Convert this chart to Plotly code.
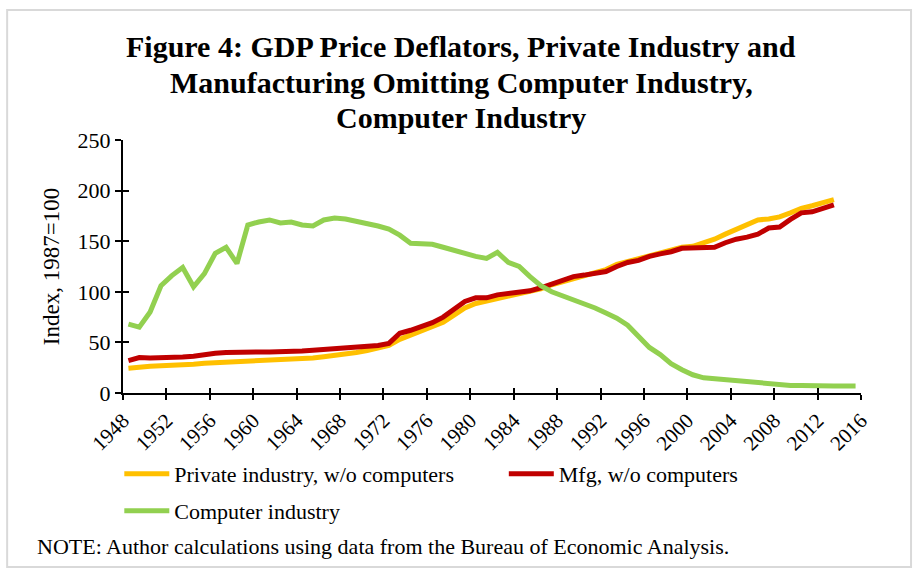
import plotly.graph_objects as go

years_comp = list(range(1948, 2016))
years_priv = list(range(1948, 2014))

computer = [68, 65, 80, 106, 116, 124, 105, 118, 138, 144, 128, 166, 169, 171, 168, 169,
            166, 165, 171, 173, 172, 170, 168, 165, 162, 156, 148, 148, 147, 144, 141, 137,
            135, 133, 139, 129, 125, 115, 106, 100, 96, 93, 88, 84, 79, 74, 67, 56,
            45, 38, 29, 23, 18, 15, 14, 13, 12, 11, 10, 9, 8, 7.5, 7.5, 7, 7, 7, 7, 7]

private = [24.5, 26, 26.5, 27, 27.3, 28, 28.5, 29.5, 30, 30.5, 31, 31.3, 31.6, 32, 32.3, 32.8,
           33.5, 34.5, 35.8, 37, 38.5, 40, 42, 44, 47, 53, 57, 61, 65.5, 70, 77, 84,
           88.5, 91, 93.5, 96, 98, 100.5, 103, 107, 110, 114, 116.5, 119, 122, 127, 130, 132,
           135, 138, 141, 144, 145, 148, 152, 157, 162, 167, 171, 172, 174, 178, 182.5, 185, 188, 191]

mfg = [32, 35, 34.6, 34.6, 35, 35.6, 36.3, 38, 39.3, 40, 40.5, 40.5, 40.5, 40.5, 40.5, 41,
       41.5, 42.3, 43, 44, 44.5, 45, 45.5, 47, 49, 59, 62, 65.5, 69.5, 75, 83, 90.5,
       94, 94, 97, 98.5, 99.5, 101, 104, 108, 111.5, 115, 116.5, 118, 120, 125, 129, 131,
       135, 137.5, 139.6, 143, 143, 143, 144, 148.5, 152, 154, 157, 163, 164, 171.5, 178, 179, 182.5, 186]

tick_years = list(range(1948, 2017, 4))
tick_labels = [str(y) for y in tick_years]
y_ticks = [0, 50, 100, 150, 200, 250]

title_lines = ["Figure 4: GDP Price Deflators, Private Industry and",
               "Manufacturing Omitting Computer Industry,",
               "Computer Industry"]
note_text = "NOTE: Author calculations using data from the Bureau of Economic Analysis."

FONT = "Liberation Serif"
FS = 22

fig = go.Figure()
fig.add_trace(go.Scatter(x=years_priv, y=private, mode="lines", name="Private industry, w/o computers",
                         line=dict(color="#FFC000", width=5), legend="legend"))
fig.add_trace(go.Scatter(x=years_priv, y=mfg, mode="lines", name="Mfg, w/o computers",
                         line=dict(color="#C00000", width=5), legend="legend2"))
fig.add_trace(go.Scatter(x=years_comp, y=computer, mode="lines", name="Computer industry",
                         line=dict(color="#92D050", width=5), legend="legend3"))
# invisible trace on overlay axes to get crossing tick marks
fig.add_trace(go.Scatter(x=[1948], y=[0], xaxis="x2", yaxis="y2", mode="markers",
                         marker=dict(opacity=0), showlegend=False, hoverinfo="skip"))

tickvals_x = [y - 0.5 for y in tick_years]

legend_common = dict(orientation="h", xanchor="left", yanchor="middle",
                     font=dict(family=FONT, size=FS, color="black"),
                     bgcolor="rgba(0,0,0,0)", itemwidth=45)

annotations = []
for line, ypos in zip(title_lines, [1.3676, 1.2253, 1.0909]):
    annotations.append(dict(text="<b>" + line + "</b>", xref="paper", yref="paper", x=0.458, y=ypos,
                            xanchor="center", yanchor="middle", showarrow=False,
                            font=dict(family=FONT, size=30, color="black")))
annotations.append(dict(text=note_text, xref="paper", yref="paper", x=-0.119, y=-0.605,
                        xanchor="left", yanchor="middle", showarrow=False,
                        font=dict(family=FONT, size=FS, color="black")))

fig.update_layout(
    width=922, height=578,
    margin=dict(l=123, r=61, t=140, b=185),
    paper_bgcolor="white", plot_bgcolor="white",
    font=dict(family=FONT, color="black"),
    xaxis=dict(range=[1947.5, 2015.5], tickmode="array", tickvals=tickvals_x, ticktext=tick_labels,
               tickangle=-45, ticks="outside", ticklen=5, tickwidth=1.5, tickcolor="black",
               showline=True, linecolor="black", linewidth=2, showgrid=False, zeroline=False,
               tickfont=dict(family=FONT, size=21, color="black")),
    yaxis=dict(range=[0, 250], tickmode="array", tickvals=y_ticks, ticks="outside", ticklen=6,
               tickwidth=1.5, tickcolor="black", showline=True, linecolor="black", linewidth=2,
               showgrid=False, zeroline=False,
               tickfont=dict(family=FONT, size=FS, color="black"),
               title=dict(text="Index, 1987=100", font=dict(family=FONT, size=23, color="black"), standoff=12)),
    xaxis2=dict(range=[1947.5, 2015.5], overlaying="x", tickmode="array", tickvals=tickvals_x,
                ticks="inside", ticklen=5, tickwidth=1.5, tickcolor="black", showticklabels=False,
                showgrid=False, zeroline=False, showline=False, anchor="y2"),
    yaxis2=dict(range=[0, 250], overlaying="y", tickmode="array", tickvals=y_ticks, ticks="inside",
                ticklen=6, tickwidth=1.5, tickcolor="black", showticklabels=False, showgrid=False,
                zeroline=False, showline=False, anchor="x2"),
    legend=dict(x=-0.005, y=-0.320, **legend_common),
    legend2=dict(x=0.516, y=-0.320, **legend_common),
    legend3=dict(x=-0.005, y=-0.466, **legend_common),
    annotations=annotations,
    shapes=[dict(type="rect", xref="paper", yref="paper", x0=-0.157, x1=1.0678, y0=-0.688, y1=1.514,
                 line=dict(color="#D9D9D9", width=2), fillcolor="rgba(0,0,0,0)", layer="below")],
    showlegend=True,
)

fig.write_html("out.html")
